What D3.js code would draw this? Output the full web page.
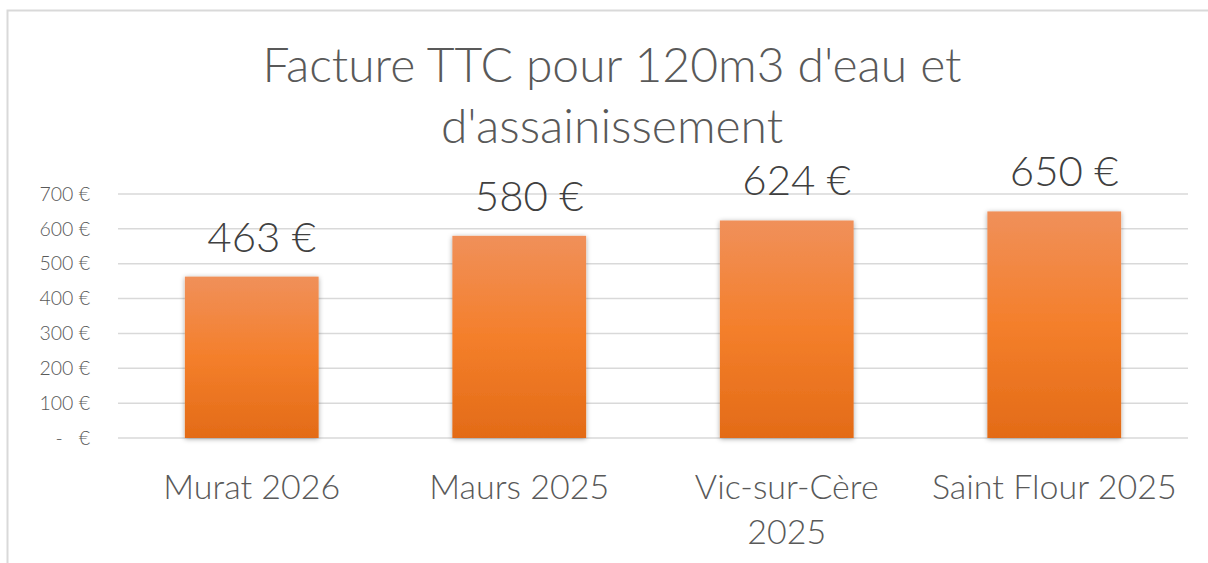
<!DOCTYPE html>
<html>
<head>
<meta charset="utf-8">
<script src="https://cdn.jsdelivr.net/npm/d3@7"></script>
<style>
  body { margin: 0; background: #fff; }
  text { font-family: Lato, "Open Sans", sans-serif; fill: #595959; }
</style>
</head>
<body>
<script>
// data
var categories = ['Murat 2026', 'Maurs 2025', 'Vic-sur-Cère 2025', 'Saint Flour 2025'];
var values = [463, 580, 624, 650];
var yTicks = [0, 100, 200, 300, 400, 500, 600, 700];
var titleLines = ["Facture TTC pour 120m3 d'eau et", "d'assainissement"];

var width = 1208, height = 563;
var margin = {left: 118, right: 20, top: 194, bottom: 125};

var svg = d3.select('body').append('svg')
  .attr('width', width).attr('height', height);

var defs = svg.append('defs');
var grad = defs.append('linearGradient').attr('id', 'barGrad')
  .attr('x1', 0).attr('y1', 0).attr('x2', 0).attr('y2', 1);
grad.append('stop').attr('offset', '0%').attr('stop-color', '#f0905a');
grad.append('stop').attr('offset', '50%').attr('stop-color', '#f47f2b');
grad.append('stop').attr('offset', '100%').attr('stop-color', '#e36b17');

var shadow = defs.append('filter').attr('id', 'shadow')
  .attr('x', '-10%').attr('y', '-10%').attr('width', '120%').attr('height', '120%');
shadow.append('feDropShadow').attr('dx', 0).attr('dy', 1).attr('stdDeviation', 2.5)
  .attr('flood-color', '#000').attr('flood-opacity', 0.35);

// chart border (right and bottom run off the page)
svg.append('rect')
  .attr('x', 7.5).attr('y', 10.5).attr('width', 1230).attr('height', 600)
  .attr('fill', 'none').attr('stroke', '#d9d9d9').attr('stroke-width', 2);

var x = d3.scaleBand()
  .domain(categories)
  .range([margin.left, width - margin.right])
  .paddingInner(0.5).paddingOuter(0.25);

var y = d3.scaleLinear()
  .domain([0, 700])
  .range([438, margin.top]);

// gridlines
svg.append('g')
  .selectAll('line')
  .data(yTicks)
  .enter()
  .append('line')
  .attr('x1', margin.left).attr('x2', width - margin.right)
  .attr('y1', function(d){ return y(d) })
  .attr('y2', function(d){ return y(d) })
  .attr('stroke', '#d9d9d9').attr('stroke-width', 1.5);

// y axis labels
var yAxis = d3.axisLeft(y).tickValues(yTicks).tickSize(0).tickPadding(0)
  .tickFormat(function(d){ return d === 0 ? '-   €' : d + ' €' });
svg.append('g')
  .attr('transform', 'translate(90,0)')
  .call(yAxis)
  .call(function(g){ g.select('.domain').remove() })
  .selectAll('text')
  .style('font-size', '19.5px').style('font-family', 'Lato, sans-serif')
  .style('font-weight', 300)
  .style('white-space', 'pre').attr('fill', '#595959');

// bars
svg.append('g')
  .selectAll('rect')
  .data(values)
  .enter()
  .append('rect')
  .attr('x', function(d, i){ return x(categories[i]) })
  .attr('width', x.bandwidth())
  .attr('y', function(d){ return y(d) })
  .attr('height', function(d){ return y(0) - y(d) })
  .attr('fill', 'url(#barGrad)')
  .attr('filter', 'url(#shadow)');

// value labels
svg.append('g')
  .selectAll('text')
  .data(values)
  .enter()
  .append('text')
  .attr('x', function(d, i){ return x(categories[i]) + x.bandwidth() / 2 + 10 })
  .attr('y', function(d){ return y(d) - 25 })
  .attr('text-anchor', 'middle')
  .style('font-size', '42px').style('font-weight', 300)
  .style('fill', '#404040')
  .text(function(d){ return d + ' €' });

// category labels (wrapped when too wide)
var catLines = categories.map(function(c){
  return c === 'Vic-sur-Cère 2025' ? ['Vic-sur-Cère', '2025'] : [c];
});
var cat = svg.append('g')
  .selectAll('text')
  .data(catLines)
  .enter()
  .append('text')
  .attr('text-anchor', 'middle')
  .attr('transform', function(d, i){
    return 'translate(' + (x(categories[i]) + x.bandwidth() / 2) + ',499)';
  })
  .style('font-size', '34px').style('font-weight', 300);
cat.selectAll('tspan')
  .data(function(d){ return d })
  .enter()
  .append('tspan')
  .attr('x', 0)
  .attr('y', function(d, i){ return i * 45 })
  .text(function(d){ return d });

// title
svg.append('text')
  .attr('text-anchor', 'middle')
  .style('font-size', '48px').style('font-weight', 300)
  .selectAll('tspan')
  .data(titleLines)
  .enter()
  .append('tspan')
  .attr('x', 612)
  .attr('y', function(d, i){ return 82 + i * 61 })
  .text(function(d){ return d });
</script>
</body>
</html>
